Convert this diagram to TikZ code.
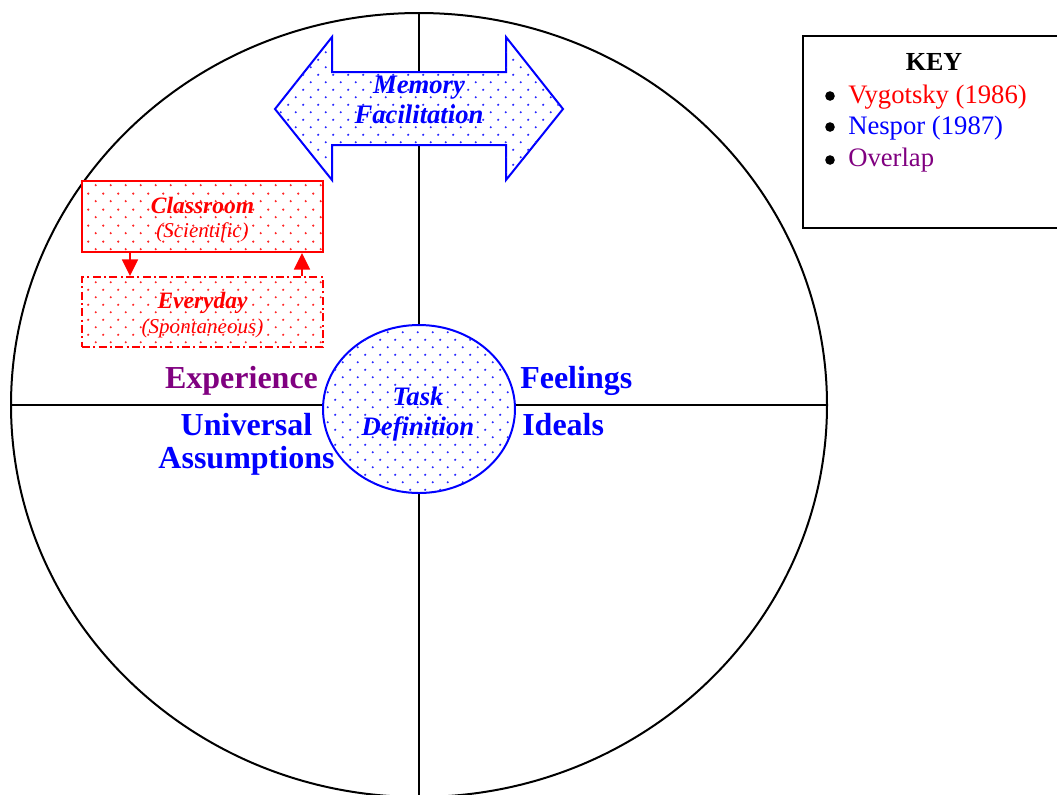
\documentclass[tikz,border=0pt]{standalone}
\usepackage{fontspec}
\setmainfont{Liberation Serif}
\usetikzlibrary{patterns.meta,arrows.meta,shapes.geometric,calc}

\definecolor{vyg}{RGB}{255,0,0}
\definecolor{nes}{RGB}{0,0,255}
\definecolor{ovl}{RGB}{128,0,128}

% sparse staggered dot fill
\pgfdeclarepattern{
  name=sparsedots,
  type=uncolored,
  bottom left={\pgfpointorigin},
  top right={\pgfpoint{11.6pt}{11.6pt}},
  tile size={\pgfpoint{11.6pt}{11.6pt}},
  code={
    \pgfpathcircle{\pgfpoint{2.9pt}{2.9pt}}{0.95pt}
    \pgfpathcircle{\pgfpoint{8.7pt}{8.7pt}}{0.95pt}
    \pgfusepath{fill}
  }
}

\newcommand{\fs}[1]{\fontsize{#1}{1.2\dimexpr#1\relax}\selectfont}

\begin{document}
\begin{tikzpicture}[x=0.75pt,y=-0.75pt,
  frame/.style={draw=black,line width=1.5pt},
  nesshape/.style={draw=nes,line width=1.5pt,fill=white,
    postaction={pattern=sparsedots,pattern color=nes!85}},
  vygbox/.style={draw=vyg,line width=1.5pt,fill=white,
    postaction={pattern=sparsedots,pattern color=vyg!85}},
  dashdot/.style={dash pattern=on 6pt off 2.5pt on 1.5pt off 2.5pt},
  lbl/.style={inner sep=0pt,anchor=base},
  bigword/.style={lbl,font=\fs{24pt}\bfseries},
  midword/.style={lbl,font=\fs{20pt}\bfseries\itshape,text=nes},
  boxword/.style={lbl,font=\fs{17.6pt}\bfseries\itshape,text=vyg},
  boxnote/.style={lbl,font=\fs{15.8pt}\itshape,text=vyg},
  keyline/.style={inner sep=0pt,anchor=base west,font=\fs{20pt}},
  bulletdot/.style={circle,fill=black,inner sep=0pt,minimum size=7.2pt},
  vygarrow/.style={draw=vyg,line width=1.3pt,-{Triangle[length=12.5pt,width=12pt]}}
]
\useasboundingbox (0,0) rectangle (1057,794);
\clip (0,0) rectangle (1057,794);

% quadrant frame
\coordinate (top) at (419,13);
\coordinate (bottom) at (419,800);
\coordinate (west) at (11,405);
\coordinate (east) at (827,405);
\draw[frame] (419,405) ellipse [x radius=306pt, y radius=294pt];
\draw[frame] (top) -- (bottom);
\draw[frame] (west) -- (east);

% memory facilitation double arrow
\draw[nesshape] (275,109) -- (332,37) -- (332,72) -- (506,72) -- (506,37)
  -- (563,109) -- (506,180) -- (506,145) -- (332,145) -- (332,180) -- cycle;
\node[midword] (memory) at (419,93) {Memory};
\node[midword] (facilitation) at (419,123) {Facilitation};

% centre ellipse
\node[nesshape,ellipse,inner sep=0pt,minimum width=144pt,minimum height=126pt] (task) at (419,409) {};
\node[midword] (tasktop) at (418,405) {Task};
\node[midword] (taskbot) at (418,435) {Definition};

% Vygotsky boxes
\node[vygbox,minimum width=180.75pt,minimum height=53.25pt] (classroom) at (202.5,216.5) {};
\node[vygbox,dashdot,minimum width=180.75pt,minimum height=52.5pt] (everyday) at (202.5,312) {};
\node[boxword] (classlbl) at (202.5,213) {Classroom};
\node[boxnote] (scilbl) at (202.5,237) {(Scientific)};
\node[boxword] (everylbl) at (202.5,308) {Everyday};
\node[boxnote] (spontlbl) at (202.5,333) {(Spontaneous)};
\draw[vygarrow] ($(classroom.south west)+(49,0)$) -- ($(everyday.north west)+(49,0)$);
\draw[vygarrow] ($(everyday.north east)+(-22,0)$) -- ($(classroom.south east)+(-22,0)$);

% quadrant labels
\node[bigword,text=ovl] (experience) at (241.5,388) {Experience};
\node[bigword,text=nes] (universal) at (246.5,435) {Universal};
\node[bigword,text=nes] (assumptions) at (246.5,468) {Assumptions};
\node[bigword,text=nes,anchor=base west] (feelings) at (520,388) {Feelings};
\node[bigword,text=nes,anchor=base west] (ideals) at (522,435) {Ideals};

% key
\draw[line width=1.5pt] (803,36) rectangle (1075,228);
\node[lbl,font=\fs{19.5pt}\bfseries] (keytitle) at (934,70.5) {KEY};
\node[bulletdot] (b1) at (830,96) {};
\node[bulletdot] (b2) at (830,127) {};
\node[bulletdot] (b3) at (830,160) {};
\node[keyline,text=vyg] (k1) at (848,103) {Vygotsky (1986)};
\node[keyline,text=nes] (k2) at (848,134) {Nespor (1987)};
\node[keyline,text=ovl] (k3) at (848,166.5) {Overlap};
\end{tikzpicture}
\end{document}
